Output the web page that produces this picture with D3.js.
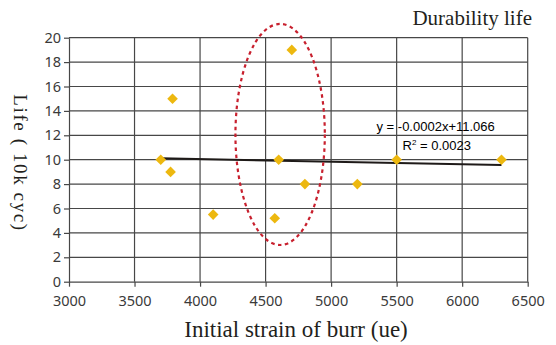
<!DOCTYPE html>
<html>
<head>
<meta charset="utf-8">
<script src="https://cdn.jsdelivr.net/npm/d3@7"></script>
<style>
  body { margin: 0; background: #fff; }
  svg { display: block; }
</style>
</head>
<body>
<svg id="chart"></svg>
<script>
const width = 556, height = 345;

// data
const strain = [3700, 3790, 3775, 4100, 4570, 4600, 4700, 4800, 5200, 5500, 6300];
const life   = [10, 15, 9, 5.5, 5.2, 10, 19, 8, 8, 10, 10];
const xTicks = [3000, 3500, 4000, 4500, 5000, 5500, 6000, 6500];
const yTicks = [0, 2, 4, 6, 8, 10, 12, 14, 16, 18, 20];
// trend line as drawn (slope, intercept) and its range
const trend = [-0.00021, 10.89];
const trendRange = [3700, 6300];
// dashed ellipse: center x, center y, half width, half height (data units)
const ellipse = [4611, 12.07, 341, 9.06];

const svg = d3.select("#chart")
    .attr("width", width)
    .attr("height", height);

const x = d3.scaleLinear().domain([3000, 6500]).range([69, 527.7]);
const y = d3.scaleLinear().domain([0, 20]).range([281.7, 37.7]);

const gridColor = "#474747";

// grid
svg.append("g").selectAll("line")
    .data(yTicks.slice(1))
    .join("line")
    .attr("x1", x(3000)).attr("x2", x(6500))
    .attr("y1", d => y(d)).attr("y2", d => y(d))
    .attr("stroke", gridColor).attr("stroke-width", 1.2);

svg.append("g").selectAll("line")
    .data(xTicks.slice(1))
    .join("line")
    .attr("y1", y(0)).attr("y2", y(20))
    .attr("x1", d => x(d)).attr("x2", d => x(d))
    .attr("stroke", gridColor).attr("stroke-width", 1.2);

// axes
const xAxis = svg.append("g")
    .attr("transform", `translate(0,${y(0)})`)
    .call(d3.axisBottom(x).tickValues(xTicks).tickFormat(d3.format("d"))
        .tickSizeInner(5).tickSizeOuter(0).tickPadding(9));

const yAxis = svg.append("g")
    .attr("transform", `translate(${x(3000)},0)`)
    .call(d3.axisLeft(y).tickValues(yTicks).tickFormat(d3.format("d"))
        .tickSizeInner(5).tickSizeOuter(0).tickPadding(3));

[xAxis, yAxis].forEach(g => {
    g.selectAll("path, line").attr("stroke", gridColor).attr("stroke-width", 1.2);
    g.selectAll("text")
        .attr("fill", "#3a3a3a")
        .style("font-family", "'Noto Sans', sans-serif")
        .style("font-size", "14.5px");
});

// trend line
svg.append("line")
    .attr("x1", x(trendRange[0]))
    .attr("y1", y(trend[0] * trendRange[0] + trend[1]))
    .attr("x2", x(trendRange[1]))
    .attr("y2", y(trend[0] * trendRange[1] + trend[1]))
    .attr("stroke", "#1e1a18")
    .attr("stroke-width", 2);

// points
const pts = strain.map((s, i) => ({ s, v: life[i] }));
svg.append("g").selectAll("path")
    .data(pts)
    .join("path")
    .attr("d", d3.symbol(d3.symbolDiamond2, 72))
    .attr("transform", d => `translate(${x(d.s)},${y(d.v)})`)
    .attr("fill", "#EDB80F");

// dashed ellipse
svg.append("ellipse")
    .attr("cx", x(ellipse[0]))
    .attr("cy", y(ellipse[1]))
    .attr("rx", x(ellipse[0] + ellipse[2]) - x(ellipse[0]))
    .attr("ry", y(0) - y(ellipse[3]))
    .attr("fill", "none")
    .attr("stroke", "#C8202E")
    .attr("stroke-width", 2.2)
    .attr("stroke-dasharray", "3.5,3.5");

// equation
const eq = svg.append("g")
    .style("font-family", "'Liberation Sans', Arial, sans-serif")
    .style("font-size", "13px")
    .attr("fill", "#000");
eq.append("text").attr("x", 376.5).attr("y", 131).text("y = -0.0002x+11.066");
const r2 = eq.append("text").attr("x", 402.5).attr("y", 150);
r2.append("tspan").text("R");
r2.append("tspan").attr("dy", -5).style("font-size", "8px").text("2");
r2.append("tspan").attr("dy", 5).text(" = 0.0023");

// titles
svg.append("text")
    .attr("x", 532).attr("y", 25)
    .attr("text-anchor", "end")
    .attr("fill", "#231f1c")
    .style("font-family", "'Liberation Serif', 'Times New Roman', serif")
    .style("font-size", "21px")
    .text("Durability life");

svg.append("text")
    .attr("x", 296).attr("y", 337)
    .attr("text-anchor", "middle")
    .attr("fill", "#231f1c")
    .style("font-family", "'Liberation Serif', 'Times New Roman', serif")
    .style("font-size", "23px")
    .text("Initial strain of burr (ue)");

svg.append("text")
    .attr("transform", "translate(14,163) rotate(90)")
    .attr("text-anchor", "middle")
    .attr("fill", "#231f1c")
    .style("font-family", "'Liberation Serif', 'Times New Roman', serif")
    .style("font-size", "19px")
    .style("letter-spacing", "1.6px")
    .text("Life ( 10k cyc)");
</script>
</body>
</html>
